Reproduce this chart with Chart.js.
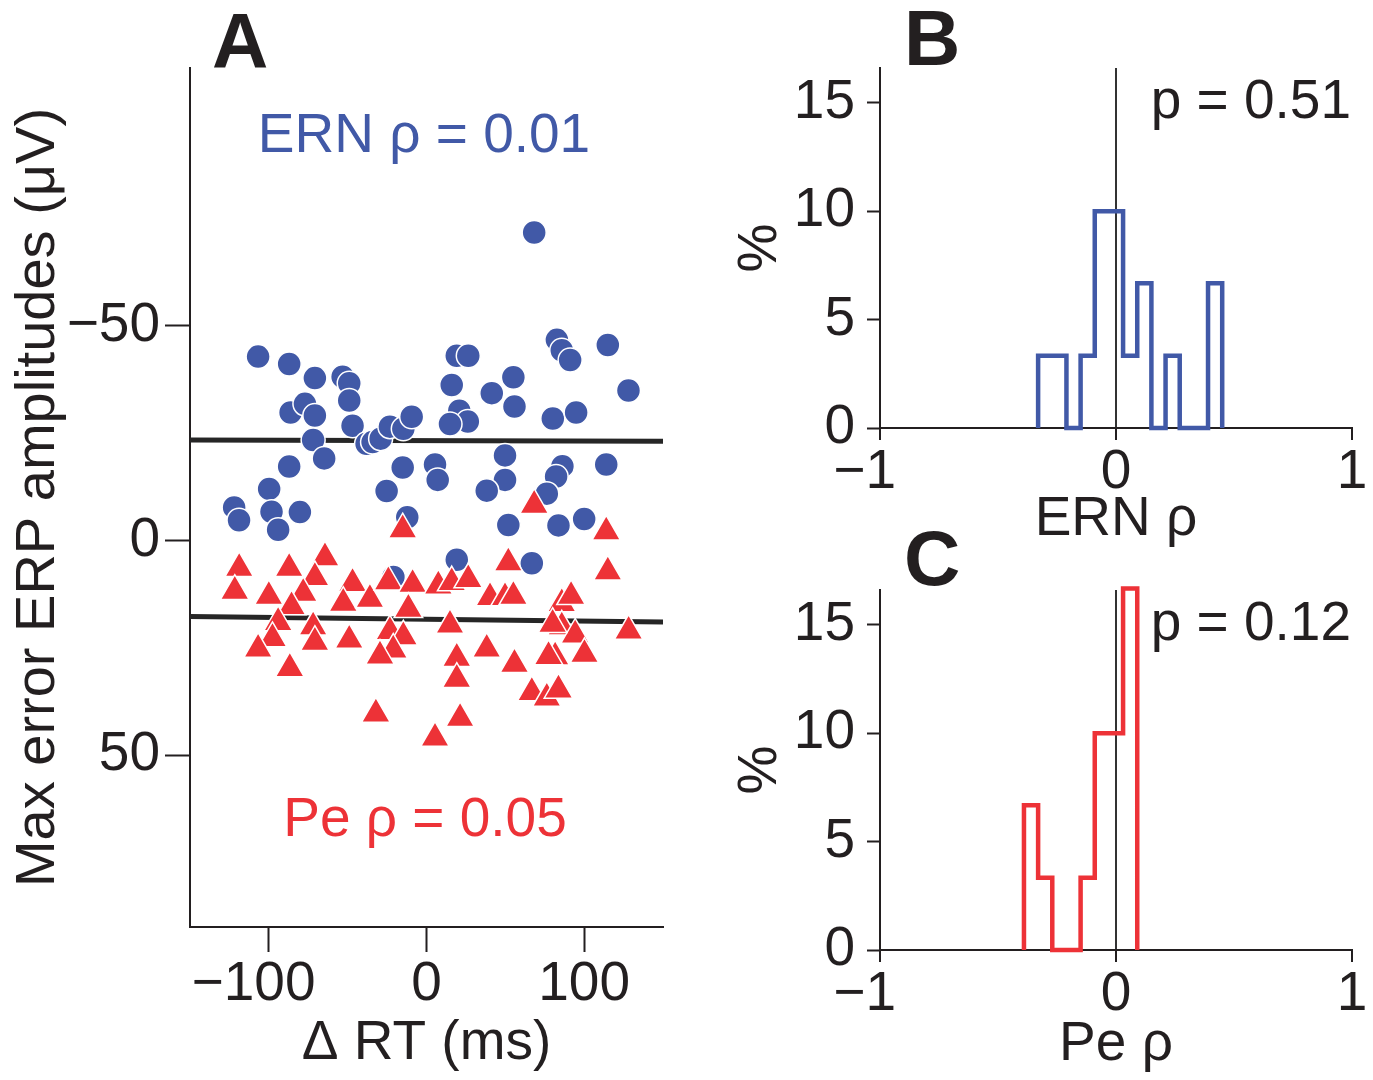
<!DOCTYPE html>
<html>
<head>
<meta charset="utf-8">
<script src="https://cdn.jsdelivr.net/npm/chart.js@4.4.0/dist/chart.umd.min.js"></script>
<style>
  html, body { margin: 0; padding: 0; background: #fff; }
  #wrap { position: relative; width: 1373px; height: 1080px; overflow: hidden; background: #fff; }
  canvas { position: absolute; }
  #cA { left: 0; top: 0; width: 700px; height: 1080px; }
  #cB { left: 700px; top: 0; width: 673px; height: 560px; }
  #cC { left: 700px; top: 500px; width: 673px; height: 580px; }
</style>
</head>
<body>
<div id="wrap">
  <canvas id="cA" width="700" height="1080"></canvas>
  <canvas id="cB" width="673" height="560"></canvas>
  <canvas id="cC" width="673" height="580"></canvas>
</div>
<script>
// ---- Panel A: per-subject ΔRT vs. max error ERP amplitude ----
const ernRT  = [-106.8, -87.1, -70.8, -53.2, -49.0, -49.0, -86.2, -77.1, -70.8, -46.9,
                -71.9, -64.9, -87.1, -99.8, -122.0, -118.9, -98.3, -80.3, -94.1, -38.0,
                -34.2, -29.1, -23.2, -14.7, -9.4, -15.1, -25.3, -12.2, 19.2, 26.5,
                16.0, 41.4, 55.1, 55.8, 20.8, 26.2, 14.9, 82.7, 85.8, 91.1,
                115.0, 128.1, 80.1, 94.9, 5.4, 7.1, 49.8, 49.8, 38.2, 86.2,
                82.2, 76.3, 114.0, 51.9, 83.7, 100.0, 19.2, 66.8, 68.3, -21.0];
const ernAmp = [-42.8, -41.1, -37.8, -38.1, -36.6, -32.6, -29.8, -31.8, -29.1, -26.7,
                -23.4, -19.1, -17.2, -12.0, -7.7, -4.7, -6.7, -6.6, -2.5, -22.5,
                -22.9, -23.7, -26.5, -26.0, -28.8, -17.0, -11.5, -5.4, -43.0, -43.0,
                -36.2, -34.3, -38.0, -31.2, -30.2, -27.7, -27.1, -46.7, -44.3, -42.0,
                -45.5, -34.9, -28.4, -29.8, -17.7, -14.1, -19.8, -14.1, -11.6, -17.3,
                -14.9, -10.9, -17.7, -3.6, -3.5, -5.0, 4.5, 5.3, -71.7, 8.5];

const peRT  = [-118.8, -121.6, -87.1, -64.4, -70.8, -100.0, -78.2, -85.6, -46.9, -52.8,
               -35.9, -24.2, -8.8, -11.5, -94.1, -97.7, -106.8, -71.9, -70.8, -49.0,
               -86.7, -23.2, -14.7, -21.1, -29.5, -32.1, -15.1, 7.5, 16.0, 26.5,
               51.9, 115.0, 114.0, 68.3, 40.3, 49.8, 55.1, 85.8, 91.7, 85.8,
               94.3, 14.9, 128.2, 19.2, 19.2, 38.2, 55.8, 81.6, 77.4, 100.2,
               66.8, 76.3, 83.7, 21.3, 5.4, 80.0];
const peAmp = [6.5, 11.8, 6.5, 4.0, 8.6, 13.0, 12.3, 15.4, 10.0, 14.6,
               13.7, 9.6, 10.2, 16.0, 19.1, 22.8, 25.3, 20.1, 23.7, 23.2,
               29.8, 21.2, 22.4, 25.5, 26.9, 40.4, -2.5, 10.6, 9.8, 9.1,
               5.2, 7.3, -2.0, -8.2, 13.3, 13.3, 13.0, 14.7, 13.0, 20.1,
               22.0, 19.7, 21.1, 27.4, 32.3, 25.3, 28.8, 27.1, 27.0, 26.5,
               35.4, 36.7, 34.8, 41.4, 46.0, 19.5];

// least-squares fit lines, evaluated at the ends of the ΔRT axis
const fitRT  = [-150, 150];
const ernFit = [-23.4, -23.1];
const peFit  = [17.7, 19.0];

const rtTicks  = [-100, 0, 100];
const ampTicks = [-50, 0, 50];

// ---- Panels B and C: distribution of within-subject correlations ----
const ernEdges = [-0.33, -0.27, -0.21, -0.15, -0.09, -0.03, 0.03, 0.09, 0.15, 0.21, 0.27, 0.33, 0.39, 0.45];
const ernPct   = [3.33, 3.33, 0, 3.33, 10, 10, 3.33, 6.67, 0, 3.33, 0, 0, 6.67];
const peEdges  = [-0.39, -0.33, -0.27, -0.21, -0.15, -0.09, -0.03, 0.03, 0.09];
const pePct    = [6.67, 3.33, 0, 0, 3.33, 10, 10, 16.67];

const rhoTicks = [-1, 0, 1];
const pctTicks = [0, 5, 10, 15];

const INK  = '#231f20';
const BLUE = '#4159a7';
const RED  = '#ed3237';
const FAMILY = '"Liberation Sans", Arial, Helvetica, sans-serif';
const FS = 55;

Chart.defaults.font.family = FAMILY;
Chart.defaults.color = INK;

const pts = (xs, ys) => xs.map((x, i) => ({ x, y: ys[i] }));

// number label with a true minus; negative x labels carry trailing space so the digits sit centred on the tick
const num = v => (v < 0 ? '\u2212' + Math.abs(v) : String(v));
const xNum = v => (v < 0 ? num(v) + '  ' : num(v));

// step outline of a histogram from its bin edges and heights
function outline(edges, pct) {
  const out = [{ x: edges[0], y: 0 }];
  pct.forEach((h, i) => { out.push({ x: edges[i], y: h }, { x: edges[i + 1], y: h }); });
  out.push({ x: edges[edges.length - 1], y: 0 });
  return out;
}

// free text drawn on top of a chart
const textLayer = {
  id: 'textLayer',
  afterDraw(chart, args, opts) {
    const ctx = chart.ctx;
    ctx.save();
    (opts.items || []).forEach(t => {
      ctx.font = (t.bold ? 'bold ' : '') + t.size + 'px ' + FAMILY;
      ctx.fillStyle = t.color;
      ctx.textAlign = t.align;
      ctx.textBaseline = 'alphabetic';
      ctx.fillText(t.text, t.x, t.y);
    });
    ctx.restore();
  }
};

const fixedTicks = list => s => { s.ticks = list.map(v => ({ value: v })); };

// ---------------- Panel A ----------------
new Chart(document.getElementById('cA'), {
  type: 'scatter',
  data: {
    datasets: [
      { label: 'Pe', data: pts(peRT, peAmp), pointStyle: 'triangle', pointRadius: 16.5,
        backgroundColor: RED, borderColor: '#ffffff', borderWidth: 1.5 },
      { label: 'ERN', data: pts(ernRT, ernAmp), pointStyle: 'circle', pointRadius: 12,
        backgroundColor: BLUE, borderColor: '#ffffff', borderWidth: 1.5 },
      { type: 'line', label: 'ERN fit', data: pts(fitRT, ernFit), borderColor: '#262626',
        borderWidth: 5, pointRadius: 0, showLine: true, fill: false },
      { type: 'line', label: 'Pe fit', data: pts(fitRT, peFit), borderColor: '#262626',
        borderWidth: 5, pointRadius: 0, showLine: true, fill: false }
    ]
  },
  options: {
    responsive: false, animation: false, events: [],
    layout: { padding: { left: 0, right: 37, top: 68, bottom: 0 } },
    plugins: {
      legend: { display: false }, tooltip: { enabled: false },
      textLayer: { items: [
        { text: 'A', x: 212, y: 68, size: 78, bold: true, color: INK, align: 'left' },
        { text: 'ERN \u03c1 = 0.01', x: 424, y: 152, size: FS, color: BLUE, align: 'center' },
        { text: 'Pe \u03c1 = 0.05', x: 425, y: 836, size: FS, color: RED, align: 'center' }
      ] }
    },
    scales: {
      x: {
        type: 'linear', min: -150, max: 150,
        afterBuildTicks: fixedTicks(rtTicks),
        afterFit: s => { s.height = 153; },
        border: { display: true, color: INK, width: 2 },
        grid: { drawOnChartArea: false, drawTicks: true, tickLength: 25, tickWidth: 2, tickColor: INK },
        ticks: { color: INK, font: { size: FS }, padding: 0, maxRotation: 0, callback: v => xNum(v) },
        title: { display: true, text: '\u0394 RT (ms)', color: INK, font: { size: FS, lineHeight: 1 },
                 padding: { top: 0, bottom: 9 } }
      },
      y: {
        type: 'linear', min: -110, max: 90, reverse: true,
        afterBuildTicks: fixedTicks(ampTicks),
        afterFit: s => { s.width = 190; },
        border: { display: true, color: INK, width: 2 },
        grid: { drawOnChartArea: false, drawTicks: true, tickLength: 25, tickWidth: 2, tickColor: INK },
        ticks: { color: INK, font: { size: FS }, padding: 5, callback: v => num(v) },
        title: { display: true, text: 'Max error ERP amplitudes (\u03bcV)', color: INK,
                 font: { size: 56, lineHeight: 1 }, padding: { top: 11, bottom: 0 } }
      }
    }
  },
  plugins: [textLayer]
});

// ---------------- Panels B / C ----------------
function histChart(id, edges, pct, color, xTitle, letter, pText, geo) {
  return new Chart(document.getElementById(id), {
    type: 'scatter',
    data: {
      datasets: [{
        label: xTitle, data: outline(edges, pct), showLine: true, pointRadius: 0,
        borderColor: color, borderWidth: 4.5, borderJoinStyle: 'miter', tension: 0,
        fill: false, clip: false
      }]
    },
    options: {
      responsive: false, animation: false, events: [],
      layout: { padding: { left: 0, right: 21, top: geo.top, bottom: 0 } },
      plugins: {
        legend: { display: false }, tooltip: { enabled: false },
        textLayer: { items: [
          { text: letter, x: 204, y: geo.letterY, size: 78, bold: true, color: INK, align: 'left' },
          { text: pText, x: 651, y: geo.pY, size: FS, color: INK, align: 'right' }
        ] }
      },
      scales: {
        x: {
          type: 'linear', min: -1, max: 1,
          afterBuildTicks: fixedTicks(rhoTicks),
          afterFit: s => { s.height = geo.xh; },
          border: { display: true, color: INK, width: 2 },
          grid: {
            drawOnChartArea: true, drawTicks: true, tickLength: 12, tickWidth: 2, tickColor: INK,
            lineWidth: 2,
            color: c => (c.tick && c.tick.value === 0 ? '#333333' : 'rgba(0,0,0,0)')
          },
          ticks: { color: INK, font: { size: FS }, padding: 0, maxRotation: 0, callback: v => xNum(v) },
          title: { display: true, text: xTitle, color: INK, font: { size: FS, lineHeight: 1 },
                   padding: { top: 0, bottom: geo.tpad } }
        },
        y: {
          type: 'linear', min: 0, max: 16.6,
          afterBuildTicks: fixedTicks(pctTicks),
          afterFit: s => { s.width = 180; },
          border: { display: true, color: INK, width: 2 },
          grid: { drawOnChartArea: false, drawTicks: true, tickLength: 13, tickWidth: 2, tickColor: INK },
          ticks: { color: INK, font: { size: FS }, padding: 12, callback: v => num(v) },
          title: { display: true, text: '%', color: INK, font: { size: FS, lineHeight: 1 },
                   padding: { top: 33, bottom: 0 } }
        }
      }
    },
    plugins: [textLayer]
  });
}

histChart('cB', ernEdges, ernPct, BLUE, 'ERN \u03c1', 'B', 'p = 0.51',
          { top: 68, xh: 132, tpad: 13, letterY: 65, pY: 118 });
histChart('cC', peEdges, pePct, RED, 'Pe \u03c1', 'C', 'p = 0.12',
          { top: 90, xh: 130, tpad: 8, letterY: 85, pY: 140 });
</script>
</body>
</html>
